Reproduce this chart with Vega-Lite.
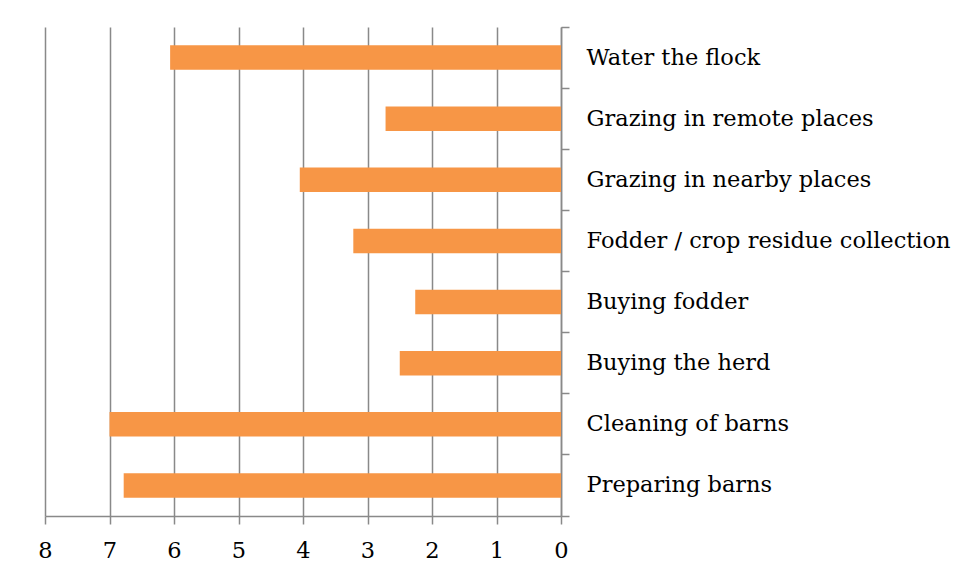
{
  "$schema": "https://vega.github.io/schema/vega-lite/v6.json",
  "width": 516,
  "height": 489,
  "autosize": "none",
  "padding": {"left": 45, "top": 27, "right": 401, "bottom": 69},
  "background": "white",
  "data": {
    "values": [
      {"activity": "Water the flock", "value": 6.06},
      {"activity": "Grazing in remote places", "value": 2.72},
      {"activity": "Grazing in nearby places", "value": 4.05},
      {"activity": "Fodder / crop residue collection", "value": 3.22},
      {"activity": "Buying fodder", "value": 2.26},
      {"activity": "Buying the herd", "value": 2.5},
      {"activity": "Cleaning of barns", "value": 7.0},
      {"activity": "Preparing barns", "value": 6.78}
    ]
  },
  "mark": {"type": "bar", "color": "#F79646", "height": {"band": 0.4}},
  "encoding": {
    "y": {
      "field": "activity",
      "type": "nominal",
      "sort": null,
      "scale": {"paddingInner": 0, "paddingOuter": 0},
      "axis": {
        "orient": "right",
        "title": null,
        "bandPosition": 1,
        "tickExtra": true,
        "tickSize": 8,
        "labelPadding": 17,
        "labelFont": "DejaVu Serif",
        "labelFontSize": 22.5,
        "labelColor": "#000000",
        "labelLimit": 500,
        "domainColor": "#898989",
        "domainWidth": 1.5,
        "tickColor": "#898989",
        "tickWidth": 1.5,
        "grid": false
      }
    },
    "x": {
      "field": "value",
      "type": "quantitative",
      "scale": {"domain": [0, 8], "reverse": true, "nice": false},
      "axis": {
        "orient": "bottom",
        "title": null,
        "values": [0, 1, 2, 3, 4, 5, 6, 7, 8],
        "tickSize": 8,
        "labelPadding": 15,
        "labelFont": "DejaVu Serif",
        "labelFontSize": 22.5,
        "labelColor": "#000000",
        "labelFlush": false,
        "domainColor": "#898989",
        "domainWidth": 1.5,
        "tickColor": "#898989",
        "tickWidth": 1.5,
        "grid": true,
        "gridColor": "#898989",
        "gridWidth": 1.5
      }
    }
  },
  "config": {"view": {"stroke": null}}
}
